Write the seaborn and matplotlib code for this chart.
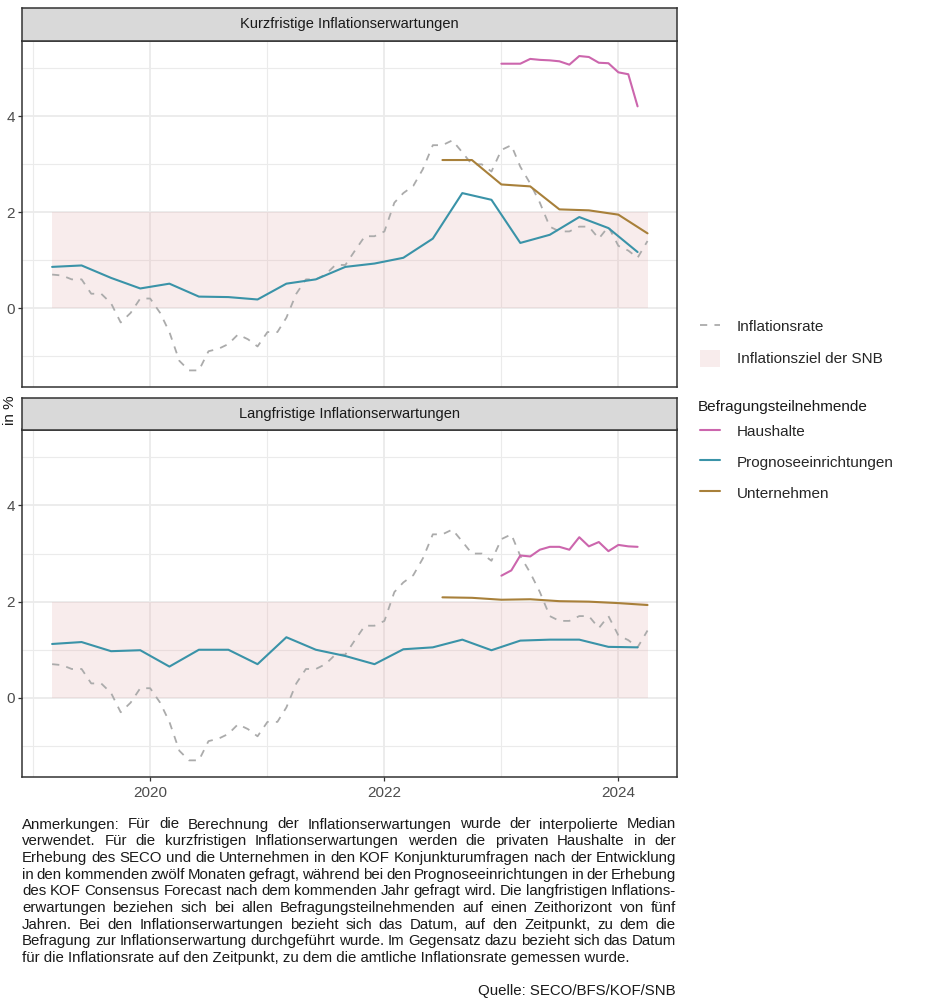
import numpy as np
import pandas as pd
import matplotlib
matplotlib.use("Agg")
import matplotlib.pyplot as plt
import matplotlib.dates as mdates
from matplotlib.lines import Line2D
from matplotlib.patches import Patch
from matplotlib.ticker import FixedLocator
import seaborn as sns

# ---------------- data ----------------
infl_dates = pd.date_range("2019-03-01", "2024-04-01", freq="MS")
infl_values = [
    0.7, 0.68, 0.6, 0.6, 0.3, 0.3, 0.1, -0.3, -0.1, 0.2,                # 2019 Mar-Dec
    0.2, -0.1, -0.5, -1.1, -1.3, -1.3, -0.9, -0.85, -0.75, -0.55, -0.65, -0.8,  # 2020
    -0.5, -0.5, -0.2, 0.3, 0.6, 0.6, 0.7, 0.9, 0.9, 1.2, 1.5, 1.5,       # 2021
    1.6, 2.2, 2.4, 2.55, 2.9, 3.4, 3.4, 3.5, 3.25, 3.0, 3.0, 2.85,      # 2022
    3.3, 3.4, 2.95, 2.6, 2.2, 1.7, 1.6, 1.6, 1.7, 1.7, 1.45, 1.7,       # 2023
    1.3, 1.2, 1.05, 1.4,                                                # 2024 Jan-Apr
]

prog_dates = pd.date_range("2019-03-01", "2024-03-01", freq="3MS")
prog_short = [0.86, 0.89, 0.63, 0.41, 0.51, 0.24, 0.23, 0.18, 0.51, 0.60, 0.86,
              0.93, 1.05, 1.45, 2.40, 2.26, 1.36, 1.53, 1.90, 1.67, 1.17]
prog_long = [1.12, 1.16, 0.97, 0.99, 0.65, 1.00, 1.00, 0.70, 1.26, 1.00, 0.87,
             0.70, 1.01, 1.05, 1.21, 0.99, 1.19, 1.21, 1.21, 1.06, 1.05]

unt_dates = pd.date_range("2022-07-01", "2024-04-01", freq="3MS")
unt_short = [3.09, 3.09, 2.58, 2.54, 2.06, 2.04, 1.95, 1.56]
unt_long = [2.09, 2.08, 2.04, 2.05, 2.01, 2.00, 1.97, 1.93]

hh_dates = pd.date_range("2023-01-01", "2024-03-01", freq="MS")
hh_short = [5.10, 5.10, 5.10, 5.20, 5.18, 5.17, 5.15, 5.08, 5.26, 5.24, 5.12,
            5.11, 4.92, 4.88, 4.21]
hh_long = [2.54, 2.65, 2.96, 2.94, 3.08, 3.14, 3.14, 3.08, 3.34, 3.15, 3.24,
           3.05, 3.18, 3.15, 3.14]

target_low, target_high = 0, 2
target_start, target_end = pd.Timestamp("2019-03-01"), pd.Timestamp("2024-04-01")

panel_titles = ["Kurzfristige Inflationserwartungen", "Langfristige Inflationserwartungen"]
group_names = ["Haushalte", "Prognoseeinrichtungen", "Unternehmen"]
group_colors = {"Haushalte": "#CC66AD", "Prognoseeinrichtungen": "#3A93A8",
                "Unternehmen": "#A8803A"}
infl_color = "#ABABAB"
band_color = "#E3A9A9"
band_alpha = 0.22

note_lines = [
    "Anmerkungen: Für die Berechnung der Inflationserwartungen wurde der interpolierte Median",
    "verwendet. Für die kurzfristigen Inflationserwartungen werden die privaten Haushalte in der",
    "Erhebung des SECO und die Unternehmen in den KOF Konjunkturumfragen nach der Entwicklung",
    "in den kommenden zwölf Monaten gefragt, während bei den Prognoseeinrichtungen in der Erhebung",
    "des KOF Consensus Forecast nach dem kommenden Jahr gefragt wird. Die langfristigen Inflations-",
    "erwartungen beziehen sich bei allen Befragungsteilnehmenden auf einen Zeithorizont von fünf",
    "Jahren. Bei den Inflationserwartungen bezieht sich das Datum, auf den Zeitpunkt, zu dem die",
    "Befragung zur Inflationserwartung durchgeführt wurde. Im Gegensatz dazu bezieht sich das Datum",
    "für die Inflationsrate auf den Zeitpunkt, zu dem die amtliche Inflationsrate gemessen wurde.",
]
source_text = "Quelle: SECO/BFS/KOF/SNB"

# build tidy frames
rows = []
for panel, (hh, pr, un) in zip(panel_titles, [(hh_short, prog_short, unt_short),
                                              (hh_long, prog_long, unt_long)]):
    for d, v in zip(hh_dates, hh):
        rows.append((panel, "Haushalte", d, v))
    for d, v in zip(prog_dates, pr):
        rows.append((panel, "Prognoseeinrichtungen", d, v))
    for d, v in zip(unt_dates, un):
        rows.append((panel, "Unternehmen", d, v))
survey = pd.DataFrame(rows, columns=["panel", "group", "date", "value"])
infl = pd.DataFrame({"date": infl_dates, "value": infl_values})

# ---------------- style ----------------
sns.set_theme(style="white")
plt.rcParams["font.family"] = ["Liberation Sans", "DejaVu Sans"]

W, H = 930, 1000
fig = plt.figure(figsize=(W / 100, H / 100), dpi=100)

def fx(px):
    return px / W

def fy(py):
    return 1 - py / H

left_px, right_px = 22, 677
panels = [
    dict(strip=(7.5, 40.7), axes=(40.7, 386.7)),
    dict(strip=(398.0, 429.5), axes=(429.5, 776.7)),
]

xlim = (pd.Timestamp("2018-11-27"), pd.Timestamp("2024-07-02"))
ylim = (-1.64, 5.58)
dark = "#333333"

axes = []
for i, (p, title) in enumerate(zip(panels, panel_titles)):
    s0, s1 = p["strip"]
    a0, a1 = p["axes"]
    ax = fig.add_axes([fx(left_px), fy(a1), fx(right_px - left_px), (a1 - a0) / H])
    axes.append(ax)
    ax.set_facecolor("white")
    ax.set_axisbelow(True)

    # target band
    ax.fill_between([target_start, target_end], [target_low] * 2, [target_high] * 2,
                    color=band_color, alpha=band_alpha, lw=0, zorder=1)

    # inflation (dashed)
    sns.lineplot(data=infl, x="date", y="value", ax=ax, color=infl_color,
                 lw=1.3, linestyle=(0, (4, 4)), estimator=None, legend=False, zorder=2)

    # surveys
    sub = survey[survey["panel"] == title]
    sns.lineplot(data=sub, x="date", y="value", hue="group", hue_order=group_names,
                 palette=group_colors, lw=1.5, estimator=None, legend=False, ax=ax,
                 zorder=3)

    ax.set_xlim(*xlim)
    ax.set_ylim(*ylim)
    ax.xaxis.set_major_locator(FixedLocator(mdates.date2num(
        [pd.Timestamp("2020-01-01"), pd.Timestamp("2022-01-01"), pd.Timestamp("2024-01-01")])))
    ax.xaxis.set_minor_locator(FixedLocator(mdates.date2num(
        [pd.Timestamp("2019-01-01"), pd.Timestamp("2021-01-01"), pd.Timestamp("2023-01-01")])))
    ax.xaxis.set_major_formatter(mdates.DateFormatter("%Y"))
    ax.yaxis.set_major_locator(FixedLocator([0, 2, 4]))
    ax.yaxis.set_minor_locator(FixedLocator([-1, 1, 3, 5]))
    ax.grid(which="major", color="#EBEBEB", lw=1.3)
    ax.grid(which="minor", color="#EBEBEB", lw=0.8)
    for sp in ax.spines.values():
        sp.set_color(dark)
        sp.set_linewidth(1.1)
    ax.tick_params(axis="both", which="major", length=3, width=0.9, color=dark,
                   labelsize=11, labelcolor="#4D4D4D", pad=2, left=True, bottom=True)
    ax.tick_params(axis="x", which="major", pad=3.5)
    ax.tick_params(axis="both", which="minor", length=0)
    ax.set_xlabel("")
    ax.set_ylabel("")
    if i == 0:
        ax.tick_params(axis="x", which="both", length=0, labelbottom=False)

    # strip
    sax = fig.add_axes([fx(left_px), fy(s1), fx(right_px - left_px), (s1 - s0) / H])
    sax.set_facecolor("#D9D9D9")
    sax.set_xticks([])
    sax.set_yticks([])
    for sp in sax.spines.values():
        sp.set_color(dark)
        sp.set_linewidth(1.1)
    sax.text(0.5, 0.5, title, ha="center", va="center", fontsize=10.5,
             color="#1A1A1A", transform=sax.transAxes)

# y label
fig.text(fx(10), fy(410), "in %", rotation=90, ha="center", va="center",
         fontsize=11, color="#1A1A1A")

# legends
h1 = [Line2D([], [], color=infl_color, lw=1.3, linestyle=(0, (4, 4))),
      Patch(facecolor=band_color, alpha=band_alpha, edgecolor="none")]
fig.legend(handles=h1, labels=["Inflationsrate", "Inflationsziel der SNB"],
           loc="upper left", bbox_to_anchor=(fx(700), fy(318)), frameon=False,
           fontsize=11, handlelength=1.3, handleheight=1.3, handletextpad=1.1,
           labelspacing=1.0, borderpad=0, borderaxespad=0)
fig.text(fx(698), fy(407), "Befragungsteilnehmende", fontsize=11, ha="left",
         va="center", color="#1A1A1A")
h2 = [Line2D([], [], color=group_colors[g], lw=1.5) for g in group_names]
fig.legend(handles=h2, labels=group_names, loc="upper left",
           bbox_to_anchor=(fx(700), fy(423)), frameon=False, fontsize=11,
           handlelength=1.3, handleheight=1.3, handletextpad=1.1,
           labelspacing=0.92, borderpad=0, borderaxespad=0)

# justified notes
renderer = fig.canvas.get_renderer()

def text_width(s, fs):
    t = fig.text(0, 0, s, fontsize=fs)
    w = t.get_window_extent(renderer).width
    t.remove()
    return w

x0, x1 = 22.0, 676.0
base_fs = 10.0
last_target = 609.0   # natural width of the last (unjustified) line
fs = base_fs * last_target / text_width(note_lines[-1], base_fs)
note_color = "#1A1A1A"
for i, line in enumerate(note_lines):
    ybase = 828.5 + i * 16.67
    if i == len(note_lines) - 1:
        fig.text(fx(x0), fy(ybase), line, fontsize=fs, va="baseline", ha="left",
                 color=note_color)
        continue
    words = line.split(" ")
    widths = [text_width(w, fs) for w in words]
    gap = (x1 - x0 - sum(widths)) / (len(words) - 1)
    x = x0
    for w, wd in zip(words, widths):
        fig.text(fx(x), fy(ybase), w, fontsize=fs, va="baseline", ha="left",
                 color=note_color)
        x += wd + gap

fig.text(fx(676), fy(995), source_text, fontsize=fs, ha="right", va="baseline",
         color=note_color)

fig.savefig("out.png", dpi=100)
